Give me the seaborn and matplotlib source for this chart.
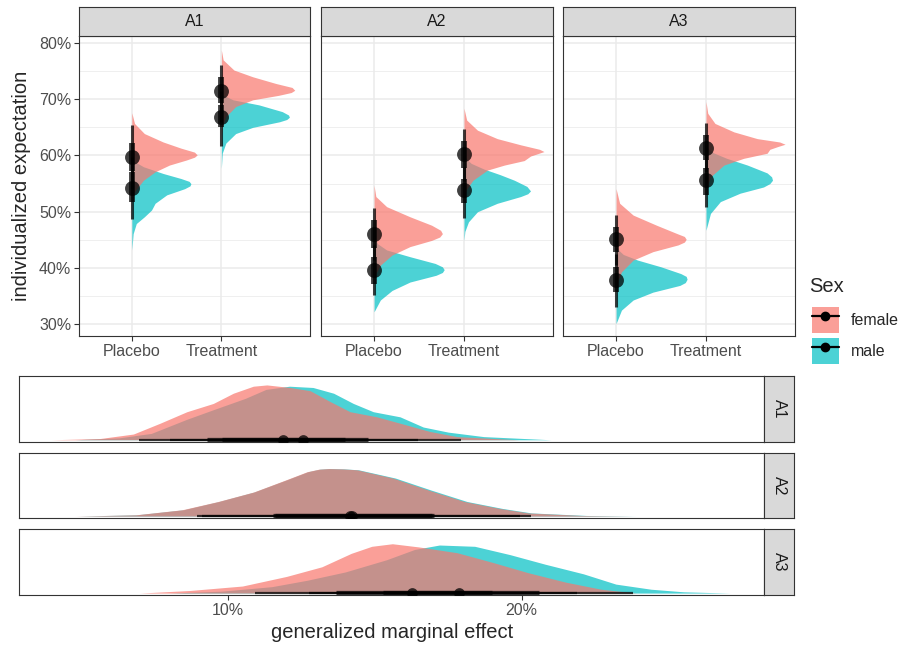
import matplotlib
matplotlib.use("Agg")
import matplotlib.pyplot as plt
from matplotlib.lines import Line2D
from matplotlib.patches import Patch
from matplotlib.ticker import FuncFormatter, MultipleLocator
import seaborn as sns

ARMS = ["A1", "A2", "A3"]
CONDITIONS = ["Placebo", "Treatment"]
SEXES = ["female", "male"]

# ---- top row: half-eye slabs, y in %, thickness in category units ----
a1_pla_f_y = [67.6, 65.7, 63.9, 62.4, 61.3, 60.6, 60.1, 59.7, 59.2, 58.3, 57.1, 55.6, 53.8, 52.1]
a1_pla_f_w = [0, 0.03, 0.14, 0.35, 0.55, 0.70, 0.73, 0.70, 0.61, 0.42, 0.26, 0.13, 0.04, 0]
a1_pla_m_y = [59.2, 58.0, 56.8, 55.9, 55.4, 55.0, 54.6, 54.1, 53.0, 51.5, 50.3, 49.1, 47.9, 46.1, 43.2]
a1_pla_m_w = [0, 0.13, 0.35, 0.55, 0.64, 0.66, 0.65, 0.59, 0.39, 0.26, 0.22, 0.14, 0.05, 0.015, 0]
a1_trt_f_y = [78.75, 77.0, 75.2, 74.0, 72.8, 72.1, 71.6, 71.2, 70.7, 69.9, 68.7, 66.9, 65.1, 63.5]
a1_trt_f_w = [0, 0.02, 0.14, 0.35, 0.61, 0.79, 0.82, 0.78, 0.64, 0.35, 0.16, 0.05, 0.01, 0]
a1_trt_m_y = [70.9, 69.9, 69.0, 67.8, 67.2, 66.8, 66.4, 66.0, 65.0, 63.9, 62.2, 60.4, 57.7]
a1_trt_m_w = [0, 0.13, 0.42, 0.68, 0.75, 0.76, 0.73, 0.65, 0.35, 0.16, 0.05, 0.01, 0]

a2_pla_f_y = [54.7, 52.7, 50.9, 49.1, 47.6, 46.7, 46.1, 45.5, 44.9, 43.8, 42.3, 40.5, 38.4]
a2_pla_f_w = [0, 0.02, 0.14, 0.40, 0.64, 0.74, 0.76, 0.73, 0.64, 0.40, 0.20, 0.07, 0]
a2_pla_m_y = [45.5, 44.3, 43.2, 42.0, 40.8, 40.2, 39.7, 39.2, 38.7, 37.5, 36.0, 34.3, 32.2]
a2_pla_m_w = [0, 0.04, 0.14, 0.40, 0.68, 0.76, 0.78, 0.76, 0.69, 0.40, 0.20, 0.07, 0]
a2_trt_f_y = [68.4, 66.3, 64.5, 63.0, 61.9, 61.1, 60.7, 59.9, 59.1, 58.3, 57.4, 55.6, 53.8, 52.0]
a2_trt_f_w = [0, 0.03, 0.15, 0.37, 0.63, 0.84, 0.89, 0.74, 0.67, 0.45, 0.26, 0.10, 0.02, 0]
a2_trt_m_y = [59.8, 58.6, 57.6, 56.6, 55.6, 54.5, 53.7, 53.2, 52.7, 51.5, 50.0, 48.2, 46.5, 44.9]
a2_trt_m_w = [0, 0.08, 0.22, 0.40, 0.56, 0.70, 0.74, 0.71, 0.63, 0.37, 0.15, 0.05, 0.01, 0]

a3_pla_f_y = [54.1, 51.5, 49.4, 47.6, 46.1, 45.6, 45.1, 44.6, 44.1, 42.9, 41.4, 39.3, 37.2, 35.5]
a3_pla_f_w = [0, 0.04, 0.19, 0.45, 0.68, 0.76, 0.78, 0.76, 0.69, 0.41, 0.19, 0.06, 0.01, 0]
a3_pla_m_y = [43.6, 42.4, 41.4, 40.2, 39.0, 38.5, 38.0, 37.4, 36.9, 35.7, 34.3, 32.5, 30.1]
a3_pla_m_w = [0, 0.08, 0.24, 0.50, 0.72, 0.78, 0.79, 0.77, 0.71, 0.41, 0.19, 0.06, 0]
a3_trt_f_y = [69.6, 67.5, 65.7, 64.2, 63.0, 62.4, 62.0, 61.6, 61.1, 60.4, 59.5, 58.3, 56.2, 53.8]
a3_trt_f_w = [0, 0.02, 0.10, 0.31, 0.57, 0.82, 0.88, 0.80, 0.71, 0.68, 0.42, 0.20, 0.05, 0]
a3_trt_m_y = [61.5, 60.5, 59.5, 58.3, 56.9, 56.2, 55.6, 55.0, 54.4, 53.3, 51.8, 49.7, 46.7]
a3_trt_m_w = [0, 0.08, 0.23, 0.46, 0.68, 0.73, 0.74, 0.71, 0.64, 0.38, 0.16, 0.05, 0]

# point intervals: median, 66% lo/hi, 95% lo/hi
a1_pla_f_int = [59.7, 57.3, 62.2, 54.0, 65.4]
a1_pla_m_int = [54.3, 51.7, 57.0, 48.7, 59.8]
a1_trt_f_int = [71.5, 69.3, 73.9, 66.0, 76.1]
a1_trt_m_int = [66.8, 65.0, 69.0, 61.7, 71.5]
a2_pla_f_int = [46.1, 43.5, 48.5, 41.5, 50.6]
a2_pla_m_int = [39.6, 37.2, 42.0, 35.2, 44.0]
a2_trt_f_int = [60.2, 57.7, 62.6, 55.5, 64.8]
a2_trt_m_int = [53.8, 51.5, 55.9, 48.8, 58.0]
a3_pla_f_int = [45.1, 42.9, 47.3, 40.5, 49.4]
a3_pla_m_int = [37.8, 35.7, 40.2, 33.1, 42.5]
a3_trt_f_int = [61.4, 59.2, 63.6, 57.0, 65.7]
a3_trt_m_int = [55.7, 53.0, 57.7, 50.9, 60.0]

# ---- bottom rows: marginal effect densities, x in %, relative height ----
a1_eff_f_x = [4.0, 5.66, 6.79, 7.70, 8.61, 9.51, 10.19, 10.87, 11.33, 12.12, 12.8, 13.48, 14.16, 15.07, 15.86, 16.88, 17.8, 19.9]
a1_eff_f_h = [0, 0.02, 0.09, 0.26, 0.44, 0.57, 0.73, 0.84, 0.86, 0.82, 0.77, 0.60, 0.44, 0.36, 0.26, 0.13, 0.05, 0]
a1_eff_m_x = [4.8, 6.3, 7.4, 8.6, 9.5, 10.6, 11.3, 12.1, 12.9, 13.6, 14.27, 14.95, 15.86, 16.65, 17.5, 18.7, 21.0]
a1_eff_m_h = [0, 0.03, 0.10, 0.32, 0.47, 0.65, 0.79, 0.84, 0.82, 0.73, 0.57, 0.44, 0.36, 0.20, 0.12, 0.05, 0]
a2_eff_f_x = [4.8, 6.87, 8.45, 9.67, 10.88, 11.97, 12.7, 13.1, 13.43, 13.9, 14.4, 15.62, 16.83, 18.05, 19.26, 20.23, 22.05, 23.75]
a2_eff_f_h = [0, 0.02, 0.10, 0.23, 0.38, 0.57, 0.70, 0.74, 0.75, 0.745, 0.73, 0.60, 0.41, 0.23, 0.12, 0.05, 0.01, 0]
a2_eff_m_x = [4.9, 6.9, 8.5, 9.7, 10.9, 12.0, 12.73, 13.13, 13.46, 13.95, 14.45, 15.7, 16.92, 18.14, 19.35, 20.33, 22.2, 23.9]
a2_eff_m_h = [0, 0.02, 0.10, 0.23, 0.38, 0.57, 0.70, 0.74, 0.75, 0.745, 0.73, 0.60, 0.41, 0.23, 0.12, 0.05, 0.01, 0]
a3_eff_f_x = [7.0, 8.7, 10.5, 12.0, 13.2, 14.2, 14.9, 15.6, 16.5, 17.8, 19.0, 20.2, 21.5, 22.7, 23.9]
a3_eff_f_h = [0, 0.04, 0.11, 0.26, 0.41, 0.62, 0.73, 0.77, 0.72, 0.63, 0.48, 0.32, 0.17, 0.06, 0]
a3_eff_m_x = [8.0, 9.8, 11.5, 12.7, 14.0, 15.4, 16.35, 17.2, 18.4, 19.6, 20.8, 22.1, 23.2, 24.4, 25.5, 27.1]
a3_eff_m_h = [0, 0.03, 0.10, 0.20, 0.33, 0.52, 0.68, 0.75, 0.73, 0.60, 0.45, 0.30, 0.14, 0.06, 0.02, 0]

a1_eff_f_int = [11.89, 9.31, 13.99, 6.98, 16.46]
a1_eff_m_int = [12.55, 9.82, 14.76, 8.04, 17.94]
a2_eff_f_int = [14.15, 11.55, 16.95, 8.96, 19.93]
a2_eff_m_int = [14.22, 11.60, 17.00, 9.14, 20.30]
a3_eff_f_int = [16.26, 13.67, 18.99, 10.93, 21.88]
a3_eff_m_int = [17.87, 15.28, 20.59, 12.77, 23.79]

top_slabs = {
    ("A1", "Placebo", "female"): (a1_pla_f_y, a1_pla_f_w, a1_pla_f_int),
    ("A1", "Placebo", "male"): (a1_pla_m_y, a1_pla_m_w, a1_pla_m_int),
    ("A1", "Treatment", "female"): (a1_trt_f_y, a1_trt_f_w, a1_trt_f_int),
    ("A1", "Treatment", "male"): (a1_trt_m_y, a1_trt_m_w, a1_trt_m_int),
    ("A2", "Placebo", "female"): (a2_pla_f_y, a2_pla_f_w, a2_pla_f_int),
    ("A2", "Placebo", "male"): (a2_pla_m_y, a2_pla_m_w, a2_pla_m_int),
    ("A2", "Treatment", "female"): (a2_trt_f_y, a2_trt_f_w, a2_trt_f_int),
    ("A2", "Treatment", "male"): (a2_trt_m_y, a2_trt_m_w, a2_trt_m_int),
    ("A3", "Placebo", "female"): (a3_pla_f_y, a3_pla_f_w, a3_pla_f_int),
    ("A3", "Placebo", "male"): (a3_pla_m_y, a3_pla_m_w, a3_pla_m_int),
    ("A3", "Treatment", "female"): (a3_trt_f_y, a3_trt_f_w, a3_trt_f_int),
    ("A3", "Treatment", "male"): (a3_trt_m_y, a3_trt_m_w, a3_trt_m_int),
}
effect_slabs = {
    ("A1", "female"): (a1_eff_f_x, a1_eff_f_h, a1_eff_f_int),
    ("A1", "male"): (a1_eff_m_x, a1_eff_m_h, a1_eff_m_int),
    ("A2", "female"): (a2_eff_f_x, a2_eff_f_h, a2_eff_f_int),
    ("A2", "male"): (a2_eff_m_x, a2_eff_m_h, a2_eff_m_int),
    ("A3", "female"): (a3_eff_f_x, a3_eff_f_h, a3_eff_f_int),
    ("A3", "male"): (a3_eff_m_x, a3_eff_m_h, a3_eff_m_int),
}

sns.set_theme(style="white")
plt.rcParams["font.family"] = ["Liberation Sans", "DejaVu Sans"]
palette = dict(zip(SEXES, sns.color_palette(["#F8766D", "#00BFC4"])))

SLAB_ALPHA = 0.7
INT_ALPHA = 0.75
BORDER = "#333333"
GRID = "#EBEBEB"
TICK_TXT = "#4D4D4D"
TICK_SIZE = 11.5
TITLE_SIZE = 14.5
pct = FuncFormatter(lambda v, _: f"{v:.0f}%")

W, H = 903, 646
fig = plt.figure(figsize=(W / 100, H / 100), dpi=100)


def add_ax(x0, y0, x1, y1):
    return fig.add_axes([x0 / W, 1 - y1 / H, (x1 - x0) / W, (y1 - y0) / H])


def style_box(ax):
    for s in ax.spines.values():
        s.set_color(BORDER)
        s.set_linewidth(0.8)


def strip(ax, label, rotation=0):
    ax.set_facecolor("#D9D9D9")
    style_box(ax)
    ax.set_xticks([])
    ax.set_yticks([])
    ax.text(0.5, 0.5, label, transform=ax.transAxes, ha="center", va="center",
            fontsize=TICK_SIZE, color="#1A1A1A", rotation=rotation)


top_boxes = [(79, 310), (321, 553), (563, 795)]
for i, arm in enumerate(ARMS):
    x0, x1 = top_boxes[i]
    ax = add_ax(x0, 36, x1, 336)
    strip(add_ax(x0, 7, x1, 36), arm)
    style_box(ax)
    ax.set_axisbelow(True)
    for j, cond in enumerate(CONDITIONS):
        pos = j + 1
        for sex in ["male", "female"]:
            y, w, _ = top_slabs[(arm, cond, sex)]
            ax.fill_betweenx(y, pos, [pos + v for v in w], color=palette[sex],
                             alpha=SLAB_ALPHA, lw=0)
        for sex in SEXES:
            med, lo66, hi66, lo95, hi95 = top_slabs[(arm, cond, sex)][2]
            ax.plot([pos, pos], [lo95, hi95], color="black", lw=2.2,
                    alpha=INT_ALPHA, solid_capstyle="butt")
            ax.plot([pos, pos], [lo66, hi66], color="black", lw=4.2,
                    alpha=INT_ALPHA, solid_capstyle="butt")
            ax.scatter([pos], [med], s=115, color="black", alpha=INT_ALPHA,
                       lw=0, zorder=3)
    ax.set_xlim(0.41, 2.99)
    ax.set_ylim(27.9, 81.25)
    ax.set_xticks([1, 2])
    ax.set_xticklabels(CONDITIONS)
    ax.yaxis.set_major_locator(MultipleLocator(10))
    ax.yaxis.set_minor_locator(MultipleLocator(5))
    ax.yaxis.set_major_formatter(pct)
    ax.grid(which="major", color=GRID, lw=1.1)
    ax.grid(which="minor", axis="y", color=GRID, lw=0.55)
    ax.tick_params(which="major", length=3.5, width=0.8, color=BORDER,
                   labelcolor=TICK_TXT, labelsize=TICK_SIZE, pad=2,
                   left=(i == 0), labelleft=(i == 0), bottom=True)
    ax.tick_params(which="minor", length=0)

fig.text(22 / W, 1 - 186 / H, "individualized expectation", rotation=90,
         ha="center", va="center", fontsize=TITLE_SIZE)

bottom_rows = [(376, 441.7), (452.7, 518), (529, 595)]
for i, arm in enumerate(ARMS):
    y0, y1 = bottom_rows[i]
    ax = add_ax(19.3, y0, 764, y1)
    strip(add_ax(764, y0, 794.3, y1), arm, rotation=-90)
    style_box(ax)
    for sex in ["male", "female"]:
        x, h, _ = effect_slabs[(arm, sex)]
        ax.fill_between(x, 0, h, color=palette[sex], alpha=SLAB_ALPHA, lw=0)
    for sex in SEXES:
        med, lo66, hi66, lo95, hi95 = effect_slabs[(arm, sex)][2]
        ax.plot([lo95, hi95], [0, 0], color="black", lw=1.6, alpha=INT_ALPHA,
                solid_capstyle="butt")
        ax.plot([lo66, hi66], [0, 0], color="black", lw=3.8, alpha=INT_ALPHA,
                solid_capstyle="butt")
        ax.scatter([med], [0], s=60, color="black", alpha=INT_ALPHA, lw=0,
                   zorder=3)
    ax.set_xlim(2.91, 28.24)
    ax.set_ylim(-0.03, 1.0)
    ax.set_yticks([])
    ax.set_xticks([10, 20])
    ax.xaxis.set_major_formatter(pct)
    last = i == len(ARMS) - 1
    ax.tick_params(length=3.5, width=0.8, color=BORDER, labelcolor=TICK_TXT,
                   labelsize=TICK_SIZE, pad=2, bottom=last, labelbottom=last)

fig.text(391.7 / W, 1 - 633 / H, "generalized marginal effect", ha="center",
         va="center", fontsize=TITLE_SIZE)

# legend: title as its own text so the key spacing matches ggplot
fig.text(809 / W, 1 - 287 / H, "Sex", ha="left", va="center",
         fontsize=TITLE_SIZE)
handles = [
    (Patch(facecolor=palette[s], alpha=SLAB_ALPHA, edgecolor="none"),
     Line2D([], [], color="black", lw=1.6, marker="o", ms=6))
    for s in SEXES
]
fig.legend(handles, SEXES, loc="upper left",
           bbox_to_anchor=(809 / W, 1 - 304 / H), frameon=False,
           handlelength=1.65, handleheight=2.15, handletextpad=0.75,
           labelspacing=0.3, fontsize=TICK_SIZE, borderpad=0.2,
           borderaxespad=0)

fig.savefig("out.png", dpi=100)
